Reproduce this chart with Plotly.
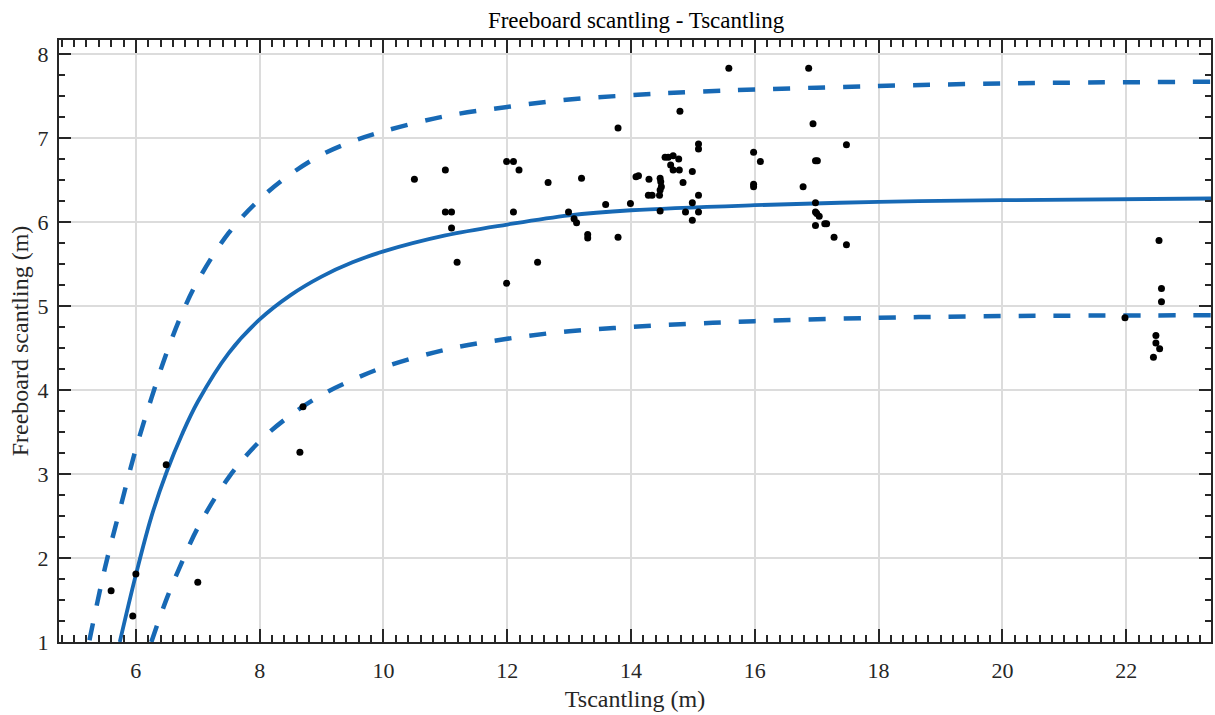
import plotly.graph_objects as go

# Observed data points (Tscantling, Freeboard scantling)
t_scant = [5.60, 5.95, 6.00, 6.49, 7.00, 8.65, 8.70,
           10.50, 11.00, 11.00, 11.10, 11.10, 11.19,
           11.99, 12.10, 12.19, 12.10, 11.99, 12.49, 12.66, 13.20, 12.99, 13.08, 13.12,
           13.30, 13.30, 13.59, 13.79, 13.79, 13.99, 14.08, 14.12, 14.29, 14.28, 14.34,
           14.46, 14.47, 14.48, 14.49, 14.47, 14.47, 14.55, 14.60, 14.68, 14.77, 14.64,
           14.68, 14.78, 14.79, 14.84, 14.99, 14.99, 14.88, 14.99, 15.09, 15.09, 15.09,
           15.09, 15.58, 15.98, 16.09, 15.98, 15.98, 16.87, 16.94, 16.98, 17.01, 16.78,
           16.98, 16.98, 17.00, 17.04, 16.98, 17.13, 17.16, 17.28, 17.48, 17.48,
           21.98, 22.53, 22.57, 22.57, 22.48, 22.48, 22.54, 22.44]
f_scant = [1.61, 1.31, 1.81, 3.11, 1.71, 3.26, 3.80,
           6.51, 6.62, 6.12, 6.12, 5.93, 5.52,
           6.72, 6.72, 6.62, 6.12, 5.27, 5.52, 6.47, 6.52, 6.12, 6.04, 5.99,
           5.85, 5.81, 6.21, 7.12, 5.82, 6.22, 6.54, 6.55, 6.51, 6.32, 6.32,
           6.32, 6.52, 6.48, 6.42, 6.38, 6.13, 6.77, 6.77, 6.79, 6.75, 6.68,
           6.62, 6.62, 7.32, 6.47, 6.60, 6.23, 6.12, 6.02, 6.32, 6.12, 6.93,
           6.87, 7.83, 6.83, 6.72, 6.45, 6.42, 7.83, 7.17, 6.73, 6.73, 6.42,
           6.23, 6.12, 6.10, 6.07, 5.96, 5.98, 5.98, 5.82, 6.92, 5.73,
           4.86, 5.78, 5.21, 5.05, 4.65, 4.56, 4.49, 4.39]

# Fitted curve
fit_x = [5.74, 6.00, 6.25, 6.50, 6.75, 7.00, 7.50, 8.00, 8.50, 9.00, 9.50, 10.00,
         11.00, 12.00, 13.00, 14.00, 16.00, 18.00, 20.00, 23.37]
fit_y = [1.00, 1.80, 2.49, 3.03, 3.48, 3.86, 4.44, 4.84, 5.13, 5.35, 5.52, 5.65,
         5.84, 5.97, 6.08, 6.14, 6.20, 6.24, 6.26, 6.28]

# Upper bound (dashed)
up_x = [5.25, 5.50, 5.75, 6.00, 6.25, 6.50, 6.75, 7.00, 7.50, 8.00, 8.50, 9.00,
        9.50, 10.00, 11.00, 12.00, 13.00, 14.00, 15.00, 17.00, 20.00, 23.37]
up_y = [1.02, 1.88, 2.60, 3.30, 3.90, 4.45, 4.92, 5.30, 5.87, 6.27, 6.57, 6.80,
        6.96, 7.08, 7.26, 7.37, 7.46, 7.51, 7.55, 7.60, 7.65, 7.67]

# Lower bound (dashed)
lo_x = [6.25, 6.50, 6.75, 7.00, 7.50, 8.00, 8.50, 9.00, 9.50, 10.00, 11.00, 12.00,
        13.00, 14.00, 15.00, 16.00, 18.00, 20.00, 23.37]
lo_y = [1.00, 1.52, 1.96, 2.36, 2.96, 3.39, 3.70, 3.94, 4.12, 4.27, 4.48, 4.61,
        4.70, 4.75, 4.79, 4.82, 4.86, 4.88, 4.89]

x_ticks = [6, 8, 10, 12, 14, 16, 18, 20, 22]
y_ticks = [1, 2, 3, 4, 5, 6, 7, 8]

BLUE = "#1769b5"
AX = "#262626"
FONT = "Liberation Serif"

fig = go.Figure()
fig.add_trace(go.Scatter(x=up_x, y=up_y, mode="lines", line_shape="spline",
                         line=dict(color=BLUE, width=4.5, dash="17px,18px"),
                         hoverinfo="skip", showlegend=False))
fig.add_trace(go.Scatter(x=lo_x, y=lo_y, mode="lines", line_shape="spline",
                         line=dict(color=BLUE, width=4.5, dash="17px,18px"),
                         hoverinfo="skip", showlegend=False))
fig.add_trace(go.Scatter(x=fit_x, y=fit_y, mode="lines", line_shape="spline",
                         line=dict(color=BLUE, width=3.8),
                         hoverinfo="skip", showlegend=False))
fig.add_trace(go.Scatter(x=t_scant, y=f_scant, mode="markers",
                         marker=dict(color="black", size=7),
                         showlegend=False))

axis_common = dict(
    showline=True, linecolor=AX, linewidth=2, mirror="ticks",
    ticks="inside", tickcolor=AX, tickwidth=2,
    showgrid=True, gridcolor="#dcdcdc", gridwidth=1.5,
    zeroline=False,
    tickfont=dict(family=FONT, size=22, color=AX),
)

fig.update_xaxes(
    range=[4.758, 23.37], tickvals=x_ticks, ticklen=13,
    minor=dict(dtick=0.2, tick0=0, ticks="inside", ticklen=7, tickcolor=AX,
               tickwidth=1.5, showgrid=False),
    ticklabelstandoff=8,
    title=dict(text="Tscantling (m)", font=dict(family=FONT, size=24, color=AX), standoff=8),
    **axis_common,
)
fig.update_yaxes(
    range=[1, 8.167], tickvals=y_ticks, ticklen=12,
    minor=dict(dtick=0.25, tick0=0, ticks="inside", ticklen=6, tickcolor=AX,
               tickwidth=1.5, showgrid=False),
    ticklabelstandoff=4,
    title=dict(text="Freeboard scantling (m)", font=dict(family=FONT, size=24, color=AX), standoff=2),
    **axis_common,
)

fig.update_layout(
    width=1215, height=715,
    margin=dict(l=59, r=2, t=40, b=73),
    paper_bgcolor="white", plot_bgcolor="white",
    title=dict(text="Freeboard scantling - Tscantling", x=0.5235, xanchor="center",
               y=1 - 20 / 715, yanchor="middle", yref="container",
               font=dict(family=FONT, size=23, color="black")),
    font=dict(family=FONT),
)

fig.write_html("out.html")
